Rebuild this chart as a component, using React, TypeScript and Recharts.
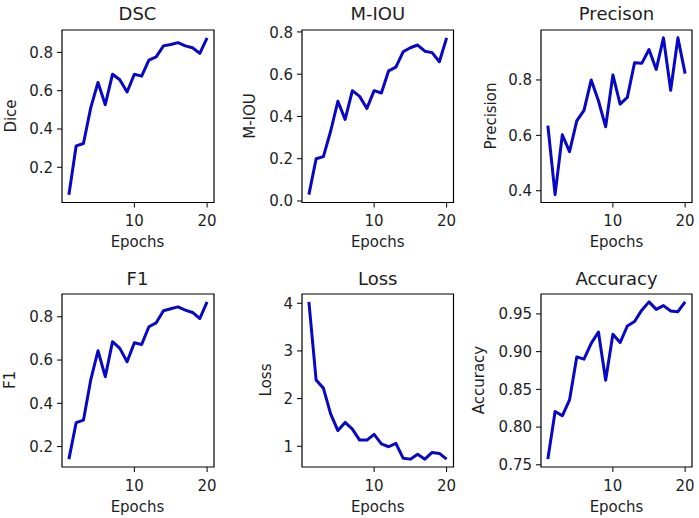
import React from 'react';
import { LineChart, Line, XAxis, YAxis, ReferenceArea } from 'recharts';

const epochs = [1, 2, 3, 4, 5, 6, 7, 8, 9, 10, 11, 12, 13, 14, 15, 16, 17, 18, 19, 20];
const dsc = [0.057, 0.312, 0.324, 0.51, 0.643, 0.527, 0.686, 0.657, 0.593, 0.686, 0.676, 0.76, 0.777, 0.834, 0.841, 0.851, 0.834, 0.824, 0.795, 0.876];
const miou = [0.03, 0.2, 0.21, 0.33, 0.472, 0.386, 0.522, 0.495, 0.438, 0.522, 0.511, 0.616, 0.633, 0.706, 0.725, 0.738, 0.709, 0.702, 0.659, 0.772];
const precision = [0.635, 0.386, 0.602, 0.541, 0.652, 0.69, 0.8, 0.725, 0.631, 0.818, 0.713, 0.737, 0.862, 0.86, 0.91, 0.838, 0.952, 0.763, 0.952, 0.823];
const f1 = [0.142, 0.311, 0.322, 0.508, 0.643, 0.523, 0.685, 0.654, 0.592, 0.68, 0.672, 0.754, 0.772, 0.828, 0.837, 0.846, 0.831, 0.82, 0.792, 0.869];
const loss = [4.03, 2.39, 2.22, 1.68, 1.33, 1.5, 1.36, 1.13, 1.13, 1.25, 1.05, 0.99, 1.06, 0.75, 0.73, 0.83, 0.73, 0.87, 0.85, 0.73];
const accuracy = [0.7575, 0.8206, 0.815, 0.836, 0.893, 0.89, 0.911, 0.926, 0.862, 0.923, 0.912, 0.934, 0.94, 0.955, 0.966, 0.956, 0.961, 0.954, 0.953, 0.966];

const xTicks = [10, 20];
const dscTicks = [0.2, 0.4, 0.6, 0.8];
const miouTicks = [0.0, 0.2, 0.4, 0.6, 0.8];
const precisionTicks = [0.4, 0.6, 0.8];
const f1Ticks = [0.2, 0.4, 0.6, 0.8];
const lossTicks = [1, 2, 3, 4];
const accuracyTicks = [0.75, 0.8, 0.85, 0.9, 0.95];

const rows = epochs.map((e, i) => ({
  epoch: e,
  dsc: dsc[i],
  miou: miou[i],
  precision: precision[i],
  f1: f1[i],
  loss: loss[i],
  accuracy: accuracy[i],
}));

const FONT = '"DejaVu Sans", sans-serif';
const TEXT = '#1e1e1e';

type PanelDef = {
  key: string;
  title: string;
  ylabel: string;
  values: number[];
  ticks: number[];
  digits: number;
  l: number;
  r: number;
  t: number;
  b: number;
  ylx: number;
  titleY: number;
  xlabelY: number;
};

const panels: PanelDef[] = [
  { key: 'dsc', title: 'DSC', ylabel: 'Dice', values: dsc, ticks: dscTicks, digits: 1, l: 61.5, r: 213.5, t: 29.5, b: 202, ylx: 11, titleY: 13.5, xlabelY: 241.5 },
  { key: 'miou', title: 'M-IOU', ylabel: 'M-IOU', values: miou, ticks: miouTicks, digits: 1, l: 302, r: 453.5, t: 29.5, b: 202, ylx: 250, titleY: 13.5, xlabelY: 241.5 },
  { key: 'precision', title: 'Precison', ylabel: 'Precision', values: precision, ticks: precisionTicks, digits: 1, l: 541, r: 692, t: 29.5, b: 202, ylx: 491, titleY: 13.5, xlabelY: 241.5 },
  { key: 'f1', title: 'F1', ylabel: 'F1', values: f1, ticks: f1Ticks, digits: 1, l: 61.5, r: 213.5, t: 293.5, b: 466.5, ylx: 10, titleY: 279, xlabelY: 507 },
  { key: 'loss', title: 'Loss', ylabel: 'Loss', values: loss, ticks: lossTicks, digits: 0, l: 302, r: 453.5, t: 293.5, b: 466.5, ylx: 266, titleY: 279, xlabelY: 507 },
  { key: 'accuracy', title: 'Accuracy', ylabel: 'Accuracy', values: accuracy, ticks: accuracyTicks, digits: 2, l: 541, r: 692, t: 293.5, b: 466.5, ylx: 479, titleY: 279, xlabelY: 507 },
];

const txt = (x: number, y: number, size: number, rotate = false): React.CSSProperties => ({
  position: 'absolute',
  left: x,
  top: y,
  transform: `translate(-50%, -50%)${rotate ? ' rotate(-90deg)' : ''}`,
  fontFamily: FONT,
  fontSize: size,
  lineHeight: 1,
  color: TEXT,
  whiteSpace: 'nowrap',
});

function Panel({ p }: { p: PanelDef }) {
  const ML = 60, MT = 6, MR = 6, MB = 40;
  const w = p.r - p.l;
  const h = p.b - p.t;
  const mn = Math.min(...p.values);
  const mx = Math.max(...p.values);
  const pad = (mx - mn) * 0.05;
  const yDomain: [number, number] = [mn - pad, mx + pad];
  const xDomain: [number, number] = [0.05, 20.95];
  const tickStyle = { fill: TEXT, fontSize: 15, fontFamily: FONT };
  return (
    <>
      <div style={{ position: 'absolute', left: p.l - ML, top: p.t - MT }}>
        <LineChart width={ML + w + MR} height={MT + h + MB} data={rows} margin={{ top: MT, right: MR, bottom: 0, left: 0 }}>
          <XAxis
            dataKey="epoch"
            type="number"
            domain={xDomain}
            ticks={xTicks}
            allowDataOverflow
            height={MB}
            tickSize={5}
            tickMargin={8}
            axisLine={false}
            tickLine={{ stroke: '#000', strokeWidth: 1 }}
            tick={tickStyle}
          />
          <YAxis
            type="number"
            domain={yDomain}
            ticks={p.ticks}
            allowDataOverflow
            width={ML}
            tickSize={5}
            tickMargin={4}
            axisLine={false}
            tickLine={{ stroke: '#000', strokeWidth: 1 }}
            tick={tickStyle}
            tickFormatter={(v: number) => v.toFixed(p.digits)}
          />
          <Line
            type="linear"
            dataKey={p.key}
            stroke="#0808c4"
            strokeWidth={3}
            dot={false}
            strokeLinejoin="round"
            isAnimationActive={false}
          />
          <ReferenceArea
            x1={xDomain[0]}
            x2={xDomain[1]}
            y1={yDomain[0]}
            y2={yDomain[1]}
            fill="none"
            fillOpacity={0}
            stroke="#000"
            strokeWidth={1.2}
            ifOverflow="visible"
          />
        </LineChart>
      </div>
      <div style={txt((p.l + p.r) / 2, p.titleY, 18)}>{p.title}</div>
      <div style={txt((p.l + p.r) / 2, p.xlabelY, 15)}>Epochs</div>
      <div style={txt(p.ylx, (p.t + p.b) / 2, 15, true)}>{p.ylabel}</div>
    </>
  );
}

export default function App() {
  return (
    <div style={{ position: 'absolute', left: 0, top: 0, width: 699, height: 518, background: '#fff', overflow: 'hidden' }}>
      {panels.map((p) => (
        <Panel key={p.key} p={p} />
      ))}
    </div>
  );
}
